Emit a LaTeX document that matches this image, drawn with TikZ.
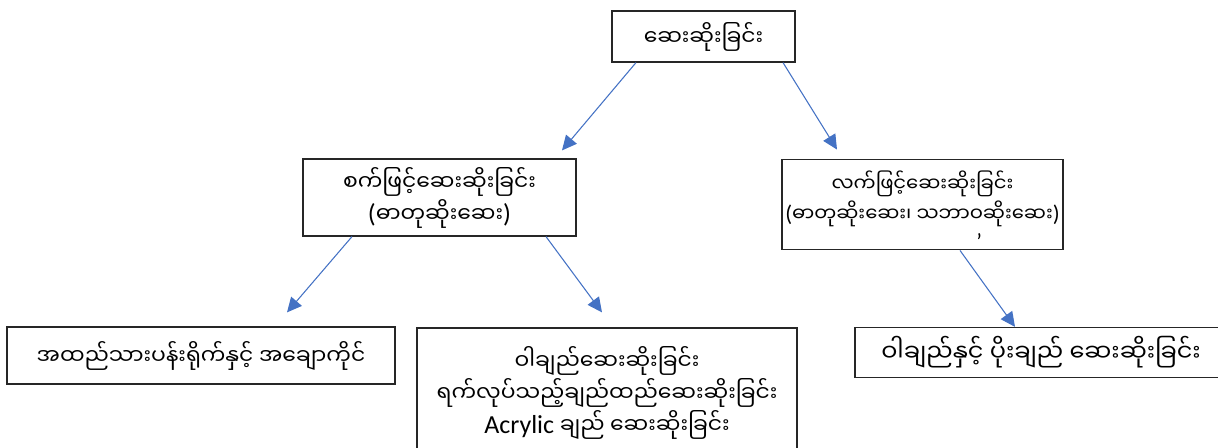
\documentclass[tikz,border=0pt]{standalone}
\usepackage{fontspec}
\setmainfont{Carlito}
\newfontfamily\myanmar[Script=Myanmar]{Noto Sans Myanmar UI}
\usetikzlibrary{calc}
\usetikzlibrary{arrows.meta}
\definecolor{linkblue}{RGB}{68,114,196}
\newcommand{\lat}[1]{{\normalfont\fontsize{19.5pt}{24pt}\selectfont #1}}
\newcommand{\smlat}[1]{{\normalfont\fontsize{17pt}{24pt}\selectfont #1}}
\tikzset{
	box/.style={
		draw=black!85,
		line width=0.9pt,
		rectangle,
		align=center,
		inner sep=0pt,
		font=\myanmar\fontsize{16.4pt}{24pt}\selectfont,
	},
	small/.style={
		font=\myanmar\fontsize{14.7pt}{23pt}\selectfont,
	},
	large/.style={
		font=\myanmar\fontsize{18pt}{24pt}\selectfont,
	},
	link/.style={
		draw=linkblue,
		line width=0.8pt,
		-{Triangle[length=11pt,width=10.5pt]}
	},
}

\begin{document}
\begin{tikzpicture}[x=0.75pt,y=-0.75pt]
		\useasboundingbox (0,0) rectangle (1218,448);

		\node[box,minimum width=137.25pt,minimum height=38.25pt] (dye) at (703.5,36.5) {ဆေးဆိုးခြင်း};

		\node[box,minimum width=204.75pt,minimum height=57.75pt] (machine) at (439.5,197.5) {စက်ဖြင့်ဆေးဆိုးခြင်း\\\lat{(}ဓာတုဆိုးဆေး\lat{)}};
		\node[box,small,minimum width=210.75pt,minimum height=66.75pt] (hand) at (922.5,204.5) {\rule{0pt}{24pt}လက်ဖြင့်ဆေးဆိုးခြင်း\\\smlat{(}ဓာတုဆိုးဆေး၊ သဘာဝဆိုးဆေး\smlat{)}\\[-2pt]\hspace*{85pt}\smlat{’}};

		\draw[link] ($(dye.south)+(-67.5,0)$) -- ($(machine.north)+(122.5,-8)$);
		\draw[link] ($(dye.south)+(79.5,0)$) -- ($(hand.north)+(-85.5,-9)$);

		\node[box,minimum width=291pt,minimum height=42.75pt] (print) at (201,355.5) {အထည်သားပန်းရိုက်နှင့် အချောကိုင်};
		\node[box,minimum width=285pt,minimum height=97.5pt] (yarn) at (607,393) {ဝါချည်ဆေးဆိုးခြင်း\\ရက်လုပ်သည့်ချည်ထည်ဆေးဆိုးခြင်း\\\lat{Acrylic} ချည် ဆေးဆိုးခြင်း};
		\node[box,large,minimum width=279pt,minimum height=37.5pt] (silk) at (1041,352.5) {ဝါချည်နှင့် ပိုးချည် ဆေးဆိုးခြင်း};

		\draw[link] ($(machine.south)+(-87.5,0)$) -- ($(print.north)+(86,-14)$);
		\draw[link] ($(machine.south)+(106.5,0)$) -- ($(yarn.north)+(-5,-15)$);
		\draw[link] ($(hand.south)+(37.5,0)$) -- ($(silk.north)+(-26,0)$);

	\end{tikzpicture}
\end{document}
